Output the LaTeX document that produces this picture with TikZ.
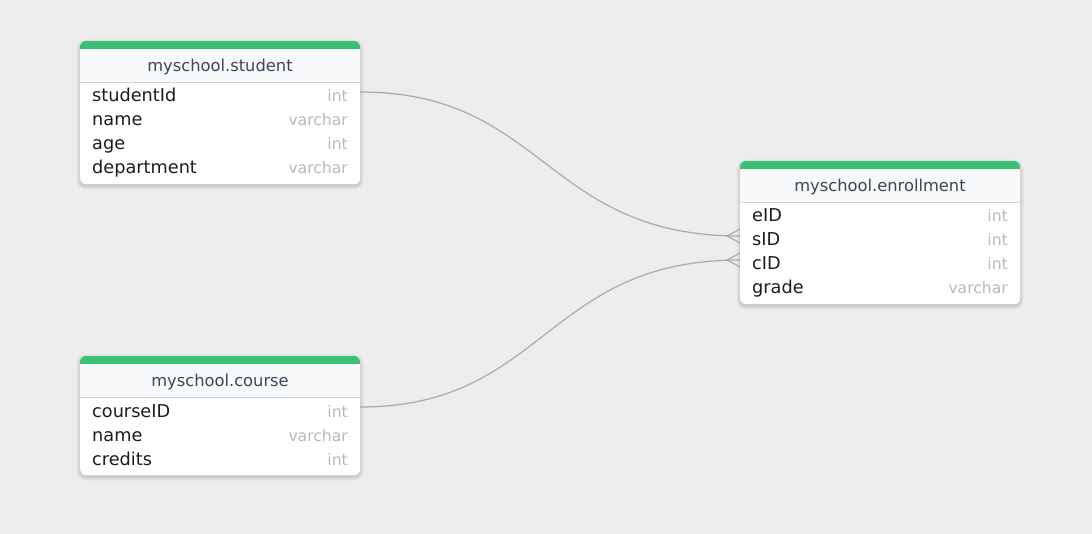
\documentclass[tikz,border=0pt]{standalone}
\usepackage{fontspec}
\setmainfont{DejaVu Sans}
\definecolor{bgcol}{HTML}{EDEDED}
\definecolor{topbar}{HTML}{3BC074}
\definecolor{headfill}{HTML}{F7F9FB}
\definecolor{sepcol}{HTML}{CFD6E0}
\definecolor{headtext}{HTML}{3B4656}
\definecolor{nametext}{HTML}{1C1C1C}
\definecolor{typetext}{HTML}{B9B9B9}
\definecolor{linkcol}{HTML}{AAAAAA}
\newcommand\tblshadow[4]{%
  \foreach \d in {0.5,1.5,2.5,3.5}{%
    \fill[black, opacity=0.035, rounded corners=6pt+\d pt]
      (#1-\d,#2-\d+2) rectangle (#3+\d,#4+\d+2);}}
\tikzset{
  tablebox/.style={rectangle, rounded corners=6pt, fill=white, draw=none, inner sep=0pt,
    anchor=north west, minimum width=280pt},
  headlabel/.style={anchor=base, inner sep=0pt, text=headtext, font=\fontsize{16.3}{18}\selectfont},
  colname/.style={anchor=base west, inner sep=0pt, text=nametext, font=\fontsize{17.7}{20}\selectfont},
  coltype/.style={anchor=base east, inner sep=0pt, text=typetext, font=\fontsize{15.6}{18}\selectfont},
  link/.style={draw=linkcol, line width=1.2pt},
}
\begin{document}
\begin{tikzpicture}[x=1pt,y=-1pt]
\fill[bgcol] (0,0) rectangle (1092,534);
\useasboundingbox (0,0) rectangle (1092,534);

% ---------- student ----------
\tblshadow{80}{41}{360}{184}
\node[tablebox, minimum height=143pt] (student) at (80,41) {};
\begin{scope}
  \clip[rounded corners=6pt] (80,41) rectangle (360,184);
  \fill[topbar] (80,41) rectangle (360,49.5);
  \fill[headfill] (80,49.5) rectangle (360,82);
\end{scope}
\draw[sepcol, line width=1pt] (80,82.5) -- (360,82.5);
\node[headlabel] (studentT) at (220,72) {myschool.student};
\node[colname] (s1n) at (92,102) {studentId};
\node[coltype] (s1t) at (348,102) {int};
\node[colname] (s2n) at (92,126) {name};
\node[coltype] (s2t) at (348,126) {varchar};
\node[colname] (s3n) at (92,150) {age};
\node[coltype] (s3t) at (348,150) {int};
\node[colname] (s4n) at (92,174) {department};
\node[coltype] (s4t) at (348,174) {varchar};

% ---------- course ----------
\tblshadow{80}{356}{360}{475}
\node[tablebox, minimum height=119pt] (course) at (80,356) {};
\begin{scope}
  \clip[rounded corners=6pt] (80,356) rectangle (360,475);
  \fill[topbar] (80,356) rectangle (360,364.5);
  \fill[headfill] (80,364.5) rectangle (360,397);
\end{scope}
\draw[sepcol, line width=1pt] (80,397.5) -- (360,397.5);
\node[headlabel] (courseT) at (220,387) {myschool.course};
\node[colname] (c1n) at (92,417) {courseID};
\node[coltype] (c1t) at (348,417) {int};
\node[colname] (c2n) at (92,441) {name};
\node[coltype] (c2t) at (348,441) {varchar};
\node[colname] (c3n) at (92,465) {credits};
\node[coltype] (c3t) at (348,465) {int};

% ---------- enrollment ----------
\tblshadow{740}{161}{1020}{304}
\node[tablebox, minimum height=143pt] (enroll) at (740,161) {};
\begin{scope}
  \clip[rounded corners=6pt] (740,161) rectangle (1020,304);
  \fill[topbar] (740,161) rectangle (1020,169.5);
  \fill[headfill] (740,169.5) rectangle (1020,202);
\end{scope}
\draw[sepcol, line width=1pt] (740,202.5) -- (1020,202.5);
\node[headlabel] (enrollT) at (880,192) {myschool.enrollment};
\node[colname] (e1n) at (752,222) {eID};
\node[coltype] (e1t) at (1008,222) {int};
\node[colname] (e2n) at (752,246) {sID};
\node[coltype] (e2t) at (1008,246) {int};
\node[colname] (e3n) at (752,270) {cID};
\node[coltype] (e3t) at (1008,270) {int};
\node[colname] (e4n) at (752,294) {grade};
\node[coltype] (e4t) at (1008,294) {varchar};

% ---------- connectors ----------
\coordinate (stuOut) at (360,92);
\coordinate (crsOut) at (360,407);
\coordinate (sidIn) at (740,236);
\coordinate (sidJ) at (727,236);
\coordinate (sidA) at (740,229);
\coordinate (sidB) at (740,243);
\coordinate (cidIn) at (740,260);
\coordinate (cidJ) at (727,260);
\coordinate (cidA) at (740,253);
\coordinate (cidB) at (740,267);

\draw[link] (stuOut) .. controls (545,92) and (545,236) .. (sidIn);
\draw[link] (sidJ) -- (sidA);
\draw[link] (sidJ) -- (sidB);
\draw[link] (crsOut) .. controls (545,407) and (545,260) .. (cidIn);
\draw[link] (cidJ) -- (cidA);
\draw[link] (cidJ) -- (cidB);
\end{tikzpicture}
\end{document}
